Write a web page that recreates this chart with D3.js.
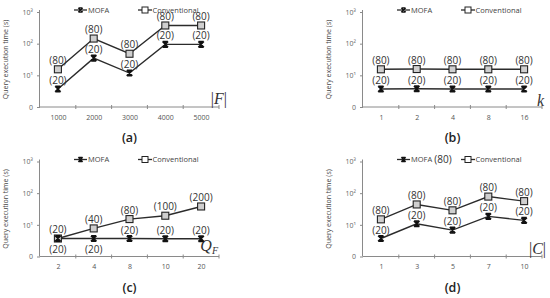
<!DOCTYPE html>
<html>
<head>
<meta charset="utf-8">
<script src="https://cdn.jsdelivr.net/npm/d3@7"></script>
<style>
  body { margin: 0; background: #fff; }
  text { font-family: "Open Sans", "DejaVu Sans", sans-serif; }
</style>
</head>
<body>
<svg id="chart"></svg>
<script>
const width = 550;
const height = 298;

// panel (a): number of facts |F|
const catsA = ["1000", "2000", "3000", "4000", "5000"];
const mofaA = [3.7, 35, 11.8, 95, 95];
const convA = [15.5, 145, 48, 375, 375];
const mofaLabA = ["(20)", "(20)", "(20)", "(20)", "(20)"];
const convLabA = ["(80)", "(80)", "(80)", "(80)", "(80)"];

// panel (b): k
const catsB = ["1", "2", "4", "8", "16"];
const mofaB = [3.7, 3.75, 3.7, 3.7, 3.7];
const convB = [15.5, 15.8, 15.5, 15.5, 15.5];
const mofaLabB = ["(20)", "(20)", "(20)", "(20)", "(20)"];
const convLabB = ["(80)", "(80)", "(80)", "(80)", "(80)"];

// panel (c): Q_F
const catsC = ["2", "4", "8", "10", "20"];
const mofaC = [3.7, 3.7, 3.7, 3.65, 3.65];
const convC = [3.7, 7.7, 15.2, 19.4, 38];
const mofaLabC = ["(20)", "(20)", "(20)", "(20)", "(20)"];
const convLabC = ["(20)", "(40)", "(80)", "(100)", "(200)"];

// panel (d): |C|
const catsD = ["1", "3", "5", "7", "10"];
const mofaD = [3.7, 10.8, 6.8, 18.5, 13.8];
const convD = [14.9, 44, 28.7, 78, 56];
const mofaLabD = ["(20)", "(20)", "(20)", "(20)", "(20)"];
const convLabD = ["(80)", "(80)", "(80)", "(80)", "(80)"];

const yTicks = [1, 10, 100, 1000];
const yTickLabels = ["0", "10\u00B9", "10\u00B2", "10\u00B3"];
const seriesNames = ["MOFA", "Conventional"];

const panels = [
  { cats: catsA, mofa: mofaA, conv: convA, mLab: mofaLabA, cLab: convLabA, tag: "(a)", x0: 40, top: 12, axisName: "F", kind: "abs", nameDx: 8, nameDy: 3, extra: null },
  { cats: catsB, mofa: mofaB, conv: convB, mLab: mofaLabB, cLab: convLabB, tag: "(b)", x0: 363, top: 12, axisName: "k", kind: "plain", nameDx: 2, nameDy: 1, extra: null },
  { cats: catsC, mofa: mofaC, conv: convC, mLab: mofaLabC, cLab: convLabC, tag: "(c)", x0: 40, top: 161.5, axisName: "Q", kind: "sub", nameDx: -1, nameDy: 6, extra: null },
  { cats: catsD, mofa: mofaD, conv: convD, mLab: mofaLabD, cLab: convLabD, tag: "(d)", x0: 363, top: 161.5, axisName: "C", kind: "abs", nameDx: 4, nameDy: 3, extra: "(80)" }
];

const svg = d3.select("#chart")
  .attr("width", width)
  .attr("height", height)
  .attr("viewBox", [0, 0, width, height]);

const axisColor = "#8a8a8a";
const lineColor = "#2b2b2b";

// MOFA marker: X with bars
const starPath = "M-2.8,-2.8L2.8,2.8M2.8,-2.8L-2.8,2.8M-2.6,-2.8H2.6M-2.6,2.8H2.6M0,-3V3";

for (const p of panels) {
  const g = svg.append("g");
  const bottom = p.top + 95;
  const x1 = p.x0 + 179;

  const y = d3.scaleLog().domain([1, 1000]).range([bottom, p.top]);
  const xb = d3.scaleBand().domain(p.cats).range([p.x0, x1]);
  const x = d3.scalePoint().domain(p.cats).range([p.x0, x1]).padding(0.5);

  // y axis
  const yAxis = g.append("g")
    .attr("transform", `translate(${p.x0},0)`)
    .call(d3.axisLeft(y).tickValues(yTicks).tickFormat((d, i) => yTickLabels[i]).tickSize(3).tickPadding(4));
  yAxis.select(".domain").attr("stroke", axisColor).attr("d", `M-0.5,${p.top - 2}V${bottom}`);
  yAxis.selectAll(".tick line").attr("stroke", axisColor);
  yAxis.selectAll(".tick text").attr("fill", "#666").style("font-size", "7px");

  // x axis
  const xAxis = g.append("g")
    .attr("transform", `translate(0,${bottom})`)
    .call(d3.axisBottom(x).tickSize(0).tickPadding(8));
  xAxis.select(".domain").attr("stroke", axisColor).attr("d", `M${p.x0},0H${x1}`);
  xAxis.selectAll(".tick text").attr("fill", "#555").style("font-size", "7px");
  xAxis.selectAll(".bnd")
    .data(p.cats)
    .join("line")
    .attr("x1", d => xb(d) + xb.bandwidth())
    .attr("x2", d => xb(d) + xb.bandwidth())
    .attr("y1", -2)
    .attr("y2", 2)
    .attr("stroke", axisColor);

  // y axis title
  g.append("text")
    .attr("transform", `translate(${p.x0 - 32},${(p.top + bottom) / 2}) rotate(-90)`)
    .attr("text-anchor", "middle")
    .style("font-size", "7px")
    .attr("fill", "#444")
    .text("Query execution time (s)");

  // x axis variable name
  const nm = g.append("text")
    .attr("x", x1 + p.nameDx)
    .attr("y", bottom - p.nameDy)
    .attr("text-anchor", "end")
    .style("font-family", "'Liberation Serif', 'DejaVu Serif', serif")
    .style("font-size", "16px")
    .attr("fill", "#333");
  if (p.kind === "abs") {
    nm.append("tspan").text("|");
    nm.append("tspan").style("font-style", "italic").text(p.axisName);
    nm.append("tspan").text("|");
  } else if (p.kind === "sub") {
    nm.append("tspan").style("font-style", "italic").text(p.axisName);
    nm.append("tspan").style("font-style", "italic").style("font-size", "10px").attr("dy", 3).text("F");
  } else {
    nm.style("font-style", "italic").text(p.axisName);
  }

  // lines
  const line = d3.line().x((d, i) => x(p.cats[i])).y(d => y(d));
  g.append("path").datum(p.mofa).attr("d", line).attr("fill", "none").attr("stroke", lineColor).attr("stroke-width", 1.4);
  g.append("path").datum(p.conv).attr("d", line).attr("fill", "none").attr("stroke", lineColor).attr("stroke-width", 1.4);

  // markers
  g.selectAll(".cm")
    .data(p.conv)
    .join("rect")
    .attr("x", (d, i) => x(p.cats[i]) - 3.5)
    .attr("y", d => y(d) - 3.5)
    .attr("width", 7)
    .attr("height", 7)
    .attr("fill", "#cfcfcf")
    .attr("stroke", "#222")
    .attr("stroke-width", 1.1);
  g.selectAll(".mm")
    .data(p.mofa)
    .join("path")
    .attr("transform", (d, i) => `translate(${x(p.cats[i])},${y(d)})`)
    .attr("d", starPath)
    .attr("fill", "none")
    .attr("stroke", "#111")
    .attr("stroke-width", 1.5);

  // value annotations
  g.selectAll(".cl")
    .data(p.conv)
    .join("text")
    .attr("x", (d, i) => x(p.cats[i]))
    .attr("y", d => y(d) - 5.5)
    .attr("text-anchor", "middle")
    .style("font-size", "10px")
    .attr("fill", "#333")
    .text((d, i) => p.cLab[i]);
  g.selectAll(".ml")
    .data(p.mofa)
    .join("text")
    .attr("x", (d, i) => x(p.cats[i]))
    .attr("y", (d, i) => (y(d) - y(p.conv[i]) < 15 ? y(d) + 14 : y(d) - 5))
    .attr("text-anchor", "middle")
    .style("font-size", "10px")
    .attr("fill", "#333")
    .text((d, i) => p.mLab[i]);

  // legend
  const ly = p.top - 2;
  const lg = g.append("g").attr("transform", `translate(${p.x0},${ly})`);
  lg.append("line").attr("x1", 34).attr("x2", 47).attr("stroke", lineColor).attr("stroke-width", 1.3);
  lg.append("path").attr("transform", "translate(40.5,0)").attr("d", "M-2.2,-2.2L2.2,2.2M2.2,-2.2L-2.2,2.2M-2,-2.2H2M-2,2.2H2").attr("stroke", "#111").attr("stroke-width", 1.3);
  lg.append("text").attr("x", 48).attr("y", 2.5).style("font-size", "7.5px").attr("fill", "#444").text(seriesNames[0]);
  lg.append("line").attr("x1", 98).attr("x2", 112).attr("stroke", lineColor).attr("stroke-width", 1.3);
  lg.append("rect").attr("x", 102).attr("y", -3).attr("width", 6).attr("height", 6).attr("fill", "#fff").attr("stroke", "#222");
  lg.append("text").attr("x", 112.5).attr("y", 2.5).style("font-size", "7.5px").attr("fill", "#444").text(seriesNames[1]);
  if (p.extra) {
    lg.append("text").attr("x", 80).attr("y", 3.5).attr("text-anchor", "middle").style("font-size", "10px").attr("fill", "#333").text(p.extra);
  }

  // panel tag
  g.append("text")
    .attr("x", (p.x0 + x1) / 2)
    .attr("y", bottom + 35)
    .attr("text-anchor", "middle")
    .style("font-size", "12.5px")
    .style("font-weight", 600)
    .attr("fill", "#222")
    .text(p.tag);
}
</script>
</body>
</html>
